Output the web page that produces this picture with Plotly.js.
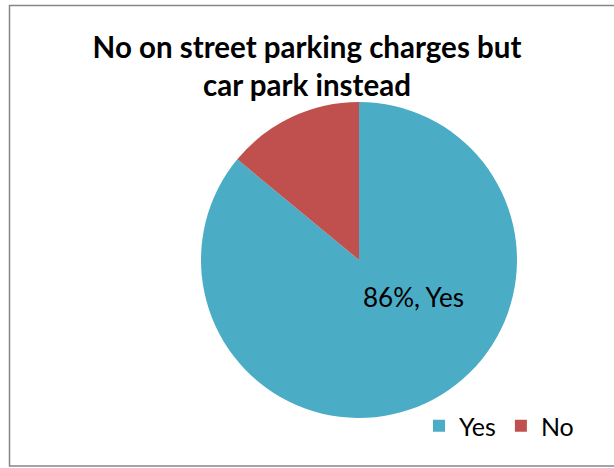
<!DOCTYPE html>
<html><head><meta charset="utf-8">
<script src="https://cdn.plot.ly/plotly-3.0.1.min.js"></script>
<style>html,body{margin:0;padding:0;overflow:hidden;background:#fff}#chart{width:614px;height:468px}</style>
</head><body><div id="chart"></div>
<script>
const categories = ["Yes", "No"];
const values = [86, 14];
const colors = ["#4BACC6", "#C0504D"];
const titleText = "No on street parking charges but<br>car park instead";

const W = 614, H = 468;
const cx = 359, cy = 260, r = 158;

const total = values.reduce((a,b)=>a+b,0);
const labelText = Math.round(values[0]/total*100) + "%, " + categories[0];

const trace = {
  type: "pie",
  labels: categories,
  values: values,
  sort: false,
  direction: "clockwise",
  rotation: 0,
  marker: {colors: colors, line: {color: "#ffffff", width: 0}},
  textinfo: "none",
  hoverinfo: "label+percent",
  domain: {x: [(cx-r)/W, (cx+r)/W], y: [1-(cy+r)/H, 1-(cy-r)/H]},
  showlegend: true
};

const layout = {
  width: W, height: H,
  margin: {l:0, r:0, t:0, b:0},
  paper_bgcolor: "#ffffff",
  font: {family: "Lato, 'Open Sans', sans-serif", color: "#000"},
  title: {text: "<b>" + titleText + "</b>", x: 0.5, xanchor: "center", y: 1-58/H, yanchor: "middle",
          font: {size: 29.5, family: "Lato, sans-serif", color: "#000"}},
  legend: {orientation: "h", x: 1-35/W, xanchor: "right", y: 1-426/H, yanchor: "middle",
           bgcolor: "rgba(0,0,0,0)",
           font: {size: 25, family: "Lato, sans-serif", color: "#000"}, itemwidth: 30, traceorder: "normal"},
  annotations: [{xref: "paper", yref: "paper", x: 413/W, y: 1-297/H, text: labelText, showarrow: false,
                 font: {size: 26, family: "Lato, sans-serif", color: "#000"}, xanchor: "center", yanchor: "middle"}],
  shapes: [{type: "rect", xref: "paper", yref: "paper", x0: 9.5/W, x1: 1.05, y0: 1-466/H, y1: 1-5.5/H,
            line: {color: "#868686", width: 1.5}, fillcolor: "rgba(0,0,0,0)"}]
};

Plotly.newPlot("chart", [trace], layout, {staticPlot: true});
</script></body></html>
